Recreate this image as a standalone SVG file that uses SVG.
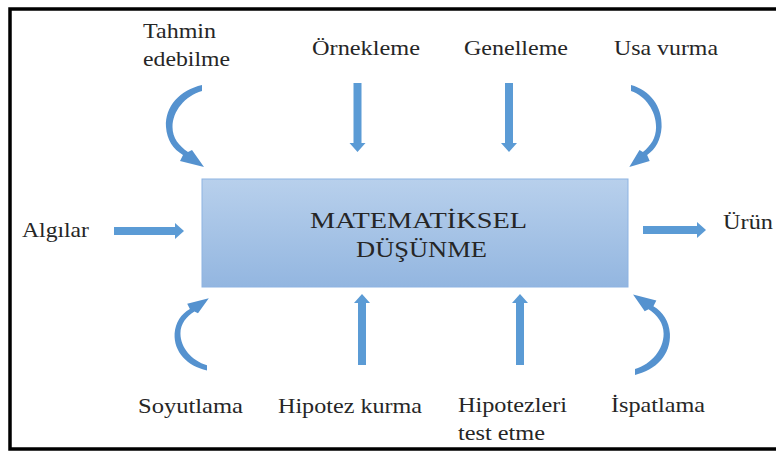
<svg xmlns="http://www.w3.org/2000/svg" width="776" height="453" viewBox="0 0 776 453">
<style>
.t{font-family:"Liberation Serif","Times New Roman",serif;font-size:21px;fill:#262626}
.m{font-family:"Liberation Serif","Times New Roman",serif;font-size:24px;fill:#262626}
.a{fill:#5b9bd5}
.c{fill:#5592cf}
</style>
<defs>
<linearGradient id="bg" x1="0" y1="0" x2="0" y2="1">
<stop offset="0" stop-color="#b8d0ec"/>
<stop offset="1" stop-color="#93b6e0"/>
</linearGradient>
<path id="curve" d="M0,-4 C-22,1 -37,17 -36,38 C-35,51 -29,60 -19,66 L-22,72 L2,78 L-10,61 L-14,63 C-23,57 -29.5,49 -29.5,38 C-29.5,22 -17,7 0,2 Z"/>
</defs>
<rect x="0" y="0" width="776" height="453" fill="#fff"/>
<rect x="10" y="9" width="800" height="440" fill="none" stroke="#000" stroke-width="3.5"/>
<g id="center">
<rect x="202" y="179" width="426" height="108" fill="url(#bg)" stroke="#8db3e2" stroke-width="1"/>
<text class="m" x="310" y="228" textLength="217" lengthAdjust="spacingAndGlyphs">MATEMATİKSEL</text>
<text class="m" x="356" y="257" textLength="131" lengthAdjust="spacingAndGlyphs">DÜŞÜNME</text>
</g>
<g id="n-tahmin"><text class="t" x="143" y="38" textLength="73" lengthAdjust="spacingAndGlyphs">Tahmin</text><text class="t" x="143" y="66" textLength="87" lengthAdjust="spacingAndGlyphs">edebilme</text></g>
<g id="n-ornekleme"><text class="t" x="312" y="55" textLength="108" lengthAdjust="spacingAndGlyphs">Örnekleme</text></g>
<g id="n-genelleme"><text class="t" x="464" y="55" textLength="104" lengthAdjust="spacingAndGlyphs">Genelleme</text></g>
<g id="n-usa"><text class="t" x="614" y="55" textLength="104" lengthAdjust="spacingAndGlyphs">Usa vurma</text></g>
<g id="n-algilar"><text class="t" x="22" y="237" textLength="67" lengthAdjust="spacingAndGlyphs">Algılar</text></g>
<g id="n-urun"><text class="t" x="723" y="229" textLength="50" lengthAdjust="spacingAndGlyphs">Ürün</text></g>
<g id="n-soyutlama"><text class="t" x="138" y="413" textLength="105" lengthAdjust="spacingAndGlyphs">Soyutlama</text></g>
<g id="n-hipotez"><text class="t" x="278" y="413" textLength="144" lengthAdjust="spacingAndGlyphs">Hipotez kurma</text></g>
<g id="n-hipotezleri"><text class="t" x="458" y="412" textLength="109" lengthAdjust="spacingAndGlyphs">Hipotezleri</text><text class="t" x="458" y="440" textLength="87" lengthAdjust="spacingAndGlyphs">test etme</text></g>
<g id="n-ispatlama"><text class="t" x="611" y="412" textLength="94" lengthAdjust="spacingAndGlyphs">İspatlama</text></g>
<g id="connectors">
<use href="#curve" class="c" transform="translate(202,89)"/>
<use href="#curve" class="c" transform="translate(631,89) scale(-0.85,1)"/>
<use href="#curve" class="c" transform="translate(207,367) scale(0.9,-0.88)"/>
<use href="#curve" class="c" transform="translate(635,371) scale(-0.97,-0.98)"/>
<path class="a" d="M353.5,83 H361.5 V143 H365.5 L357.5,152 L349.5,143 H353.5 Z"/>
<path class="a" d="M505,83 H513 V143 H517 L509,152 L501,143 H505 Z"/>
<path class="a" d="M358,365 H366 V303 H370 L362,294 L354,303 H358 Z"/>
<path class="a" d="M516,365 H524 V303 H528 L520,294 L512,303 H516 Z"/>
<path class="a" d="M114,227 H175 V223 L184,231 L175,239 V235 H114 Z"/>
<path class="a" d="M643,226 H697 V222 L706,230 L697,238 V234 H643 Z"/>
</g>
</svg>
